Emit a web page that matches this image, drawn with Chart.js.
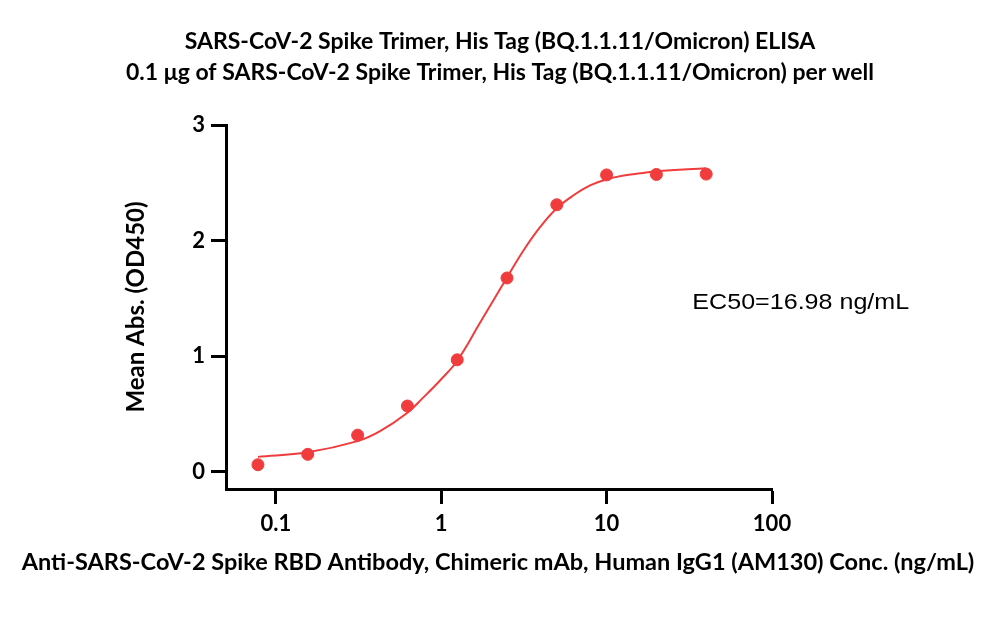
<!DOCTYPE html>
<html>
<head>
<meta charset="utf-8">
<script src="https://cdn.jsdelivr.net/npm/chart.js@4.4.0/dist/chart.umd.min.js"></script>
<style>
  html, body { margin: 0; padding: 0; background: #fff; }
  #wrap { width: 1000px; height: 639px; }
</style>
</head>
<body>
<div id="wrap"><canvas id="chart" width="1000" height="639"></canvas></div>
<script>
// measured points (ng/mL vs OD450)
const concentrations = [0.078, 0.156, 0.3125, 0.625, 1.25, 2.5, 5, 10, 20, 40];
const meanAbs = [0.06, 0.15, 0.316, 0.568, 0.968, 1.676, 2.31, 2.568, 2.572, 2.575];

// fitted curve
const fitConc = [0.078, 0.156, 0.3125, 0.427, 0.625, 0.767, 1, 1.25, 1.72, 2.5, 3.15, 3.98, 5, 6.34, 8, 10, 12.7, 16.1, 20, 40];
const fitAbs = [0.128, 0.168, 0.264, 0.35, 0.51, 0.632, 0.8, 0.96, 1.29, 1.68, 1.916, 2.12, 2.28, 2.394, 2.48, 2.53, 2.563, 2.583, 2.6, 2.626];

const xTicks = [0.1, 1, 10, 100];
const yTicks = [0, 1, 2, 3];

const titleLines = [
    'SARS-CoV-2 Spike Trimer, His Tag (BQ.1.1.11/Omicron) ELISA',
    '0.1 μg of SARS-CoV-2 Spike Trimer, His Tag (BQ.1.1.11/Omicron) per well'
];
const xTitle = 'Anti-SARS-CoV-2 Spike RBD Antibody, Chimeric mAb, Human IgG1 (AM130) Conc. (ng/mL)';
const yTitle = 'Mean Abs. (OD450)';
const ec50Text = 'EC50=16.98 ng/mL';

const red = '#f03c3c';
const latoBold = size => ({ family: 'Lato, "Open Sans", sans-serif', weight: 'bold', size: size });

// titles and x-axis title are drawn here so they can be as wide as the picture
const extraText = {
    id: 'extraText',
    afterDraw(chart) {
        const { ctx, scales: { x, y } } = chart;
        ctx.save();
        ctx.fillStyle = '#000';
        ctx.textAlign = 'center';
        ctx.textBaseline = 'middle';
        ctx.font = 'bold 23px Lato, "Open Sans", sans-serif';
        ctx.fillText(titleLines[0], 500, 42);
        ctx.fillText(titleLines[1], 500, 73);

        ctx.font = 'bold 23.5px Lato, "Open Sans", sans-serif';
        ctx.fillText(xTitle, 498, 562);

        // EC50 label, slightly stretched like the original
        ctx.font = '22px "Liberation Sans", Arial, sans-serif';
        ctx.textAlign = 'left';
        ctx.textBaseline = 'alphabetic';
        const px = x.getPixelForValue(33);
        const py = y.getPixelForValue(1.41);
        ctx.translate(px, py);
        ctx.scale(1.14, 1);
        ctx.fillText(ec50Text, 0, 0);
        ctx.restore();
    }
};

const ctx = document.getElementById('chart').getContext('2d');
new Chart(ctx, {
    type: 'scatter',
    data: {
        datasets: [
            {
                type: 'line',
                label: 'Fit',
                data: fitConc.map((c, i) => ({ x: c, y: fitAbs[i] })),
                borderColor: red,
                borderWidth: 2,
                pointRadius: 0,
                fill: false,
                tension: 0.4,
                order: 2
            },
            {
                label: 'Mean Abs.',
                data: concentrations.map((c, i) => ({ x: c, y: meanAbs[i] })),
                backgroundColor: red,
                borderColor: red,
                pointRadius: 6,
                pointHoverRadius: 6,
                order: 1
            }
        ]
    },
    options: {
        responsive: false,
        animation: false,
        layout: { padding: { left: 118, right: 228, top: 125, bottom: 60 } },
        plugins: {
            legend: { display: false },
            tooltip: { enabled: false },
            title: { display: false }
        },
        scales: {
            x: {
                type: 'logarithmic',
                min: 0.05,
                max: 100,
                afterBuildTicks: s => { s.ticks = xTicks.map(v => ({ value: v })); },
                afterFit: s => { s.height = 90; },
                border: { color: '#000', width: 3 },
                grid: { drawOnChartArea: false, tickLength: 15, tickColor: '#000', tickWidth: 3 },
                ticks: {
                    color: '#000',
                    font: latoBold(22),
                    padding: 7,
                    maxRotation: 0,
                    autoSkip: false,
                    callback: v => String(v)
                }
            },
            y: {
                min: -0.15,
                max: 3,
                afterBuildTicks: s => { s.ticks = yTicks.map(v => ({ value: v })); },
                afterFit: s => { s.width = 108; },
                border: { color: '#000', width: 3 },
                grid: { drawOnChartArea: false, tickLength: 15, tickColor: '#000', tickWidth: 3 },
                ticks: {
                    color: '#000',
                    font: latoBold(22),
                    padding: 6,
                    callback: v => String(v)
                },
                title: {
                    display: true,
                    text: yTitle,
                    color: '#000',
                    font: latoBold(24),
                    padding: { top: 4, bottom: 4 }
                }
            }
        }
    },
    plugins: [extraText]
});
</script>
</body>
</html>
